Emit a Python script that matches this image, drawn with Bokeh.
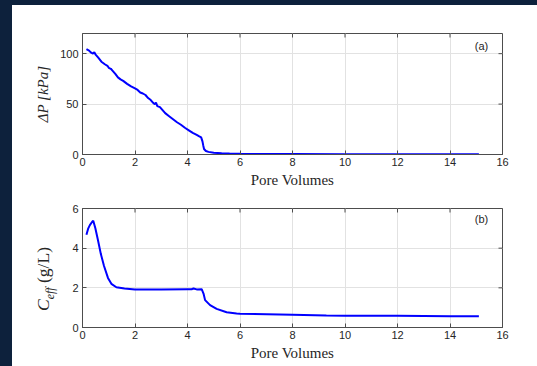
from bokeh.plotting import figure
from bokeh.models import FixedTicker, Range1d, Label, GlobalInlineStyleSheet, Div
from bokeh.layouts import column
from bokeh.embed import file_html
from bokeh.resources import INLINE

# ---------------- data ----------------
pv_dp = [0.15, 0.25, 0.33, 0.40, 0.45, 0.50, 0.60, 0.72, 0.85, 0.95, 1.00, 1.08, 1.15,
         1.25, 1.35, 1.45, 1.55, 1.70, 1.85, 2.00, 2.10, 2.20, 2.30, 2.40, 2.50, 2.60,
         2.70, 2.75, 2.80, 2.85, 2.95, 3.05, 3.15, 3.30, 3.45, 3.60, 3.75, 3.90, 4.05,
         4.20, 4.35, 4.45, 4.52, 4.57, 4.60, 4.63, 4.70, 4.80, 5.00, 5.30, 5.60, 6.00,
         7.00, 8.00, 10.0, 12.0, 14.0, 15.1]
dp = [104.5, 103.0, 101.0, 100.0, 101.5, 99.0, 96.0, 92.0, 89.5, 88.0, 86.0, 85.0, 83.0,
      80.0, 76.5, 74.5, 73.0, 70.0, 67.5, 65.5, 64.0, 61.5, 60.5, 59.0, 56.0, 54.0,
      51.0, 50.0, 51.5, 48.0, 47.0, 44.0, 41.0, 38.0, 35.0, 32.0, 29.5, 26.5, 24.0,
      21.5, 19.5, 18.0, 17.0, 13.0, 9.0, 5.5, 3.5, 2.6, 1.8, 1.2, 0.9, 0.7,
      0.5, 0.4, 0.35, 0.3, 0.3, 0.3]

pv_c = [0.15, 0.22, 0.28, 0.37, 0.41, 0.49, 0.59, 0.70, 0.82, 0.97, 1.10, 1.29, 1.60,
        2.00, 3.00, 4.00, 4.16, 4.23, 4.35, 4.54, 4.61, 4.67, 4.86, 5.11, 5.49, 5.87,
        6.00, 8.00, 9.29, 10.0, 12.0, 14.0, 15.1]
c_eff = [4.68, 5.00, 5.16, 5.33, 5.38, 5.00, 4.40, 3.70, 3.10, 2.50, 2.20, 2.03, 1.97,
         1.91, 1.91, 1.93, 1.93, 1.97, 1.92, 1.93, 1.71, 1.38, 1.13, 0.94, 0.77, 0.71,
         0.69, 0.64, 0.60, 0.59, 0.59, 0.57, 0.57]

x_ticks = [0, 2, 4, 6, 8, 10, 12, 14, 16]
dp_ticks = [0, 50, 100]
c_ticks = [0, 2, 4, 6]

NAVY = "#0d213c"
TXT = "#262626"
AX = "#4d4d4d"
GRID = "#e2e2e2"
BLUE = "#0000ff"

FRAME_W = 420  # px, used to size the inner box-ticks


def make_fig(height, top, bottom, yr, yticks, frame_h):
    p = figure(width=525, height=height, x_range=Range1d(0, 16), y_range=Range1d(*yr),
               output_backend="svg", toolbar_location=None,
               min_border_left=70, min_border_right=35,
               min_border_top=top, min_border_bottom=bottom)
    p.background_fill_color = "white"
    p.border_fill_color = "white"
    p.outline_line_color = AX
    p.xaxis.ticker = FixedTicker(ticks=x_ticks)
    p.yaxis.ticker = FixedTicker(ticks=yticks)
    p.xgrid.ticker = FixedTicker(ticks=x_ticks)
    p.ygrid.ticker = FixedTicker(ticks=yticks)
    p.xgrid.grid_line_color = GRID
    p.ygrid.grid_line_color = GRID
    for ax in p.xaxis + p.yaxis:
        ax.major_tick_in = 4
        ax.major_tick_out = 0
        ax.minor_tick_line_color = None
        ax.axis_line_color = AX
        ax.major_tick_line_color = AX
        ax.major_label_text_font = "Liberation Sans"
        ax.major_label_text_font_size = "11px"
        ax.major_label_text_color = TXT
        ax.major_label_standoff = 4
        ax.axis_label_text_font = "Liberation Serif"
        ax.axis_label_text_font_size = "15px"
        ax.axis_label_text_font_style = "normal"
        ax.axis_label_text_color = TXT
    p.xaxis.axis_label = "Pore Volumes"
    p.xaxis.axis_label_standoff = 3
    p.xaxis.major_label_standoff = 3
    # inner ticks on the top and right edges of the box
    y0, y1 = yr
    dy = 4 * (y1 - y0) / frame_h
    dx = 4 * 16 / FRAME_W
    p.segment(x0=x_ticks, y0=[y1] * len(x_ticks), x1=x_ticks, y1=[y1 - dy] * len(x_ticks),
              line_color=AX, line_width=1)
    p.segment(x0=[16] * len(yticks), y0=yticks, x1=[16 - dx] * len(yticks), y1=yticks,
              line_color=AX, line_width=1)
    return p


# ---------------- top panel ----------------
p1 = make_fig(185, 28, 36, (0, 120), dp_ticks, 121)
p1.line(pv_dp, dp, line_color=BLUE, line_width=2)
p1.yaxis[0].axis_label = "ΔP [kPa]"
p1.yaxis[0].axis_label_text_font_style = "italic"
p1.yaxis[0].axis_label_standoff = 6
p1.add_layout(Label(x=15.2, y=108, text="(a)", text_align="center", text_baseline="middle",
                    text_font="Liberation Sans", text_font_size="11px", text_color=TXT))

# ---------------- bottom panel ----------------
p2 = make_fig(176, 18, 39, (0, 6), c_ticks, 119)
p2.line(pv_c, c_eff, line_color=BLUE, line_width=2)
p2.add_layout(Label(x=15.2, y=5.45, text="(b)", text_align="center", text_baseline="middle",
                    text_font="Liberation Sans", text_font_size="11px", text_color=TXT))

ylab2 = Div(
    text=('<span style="font-family:\'Liberation Serif\';font-size:17.5px;color:%s;white-space:nowrap">'
          '<i>C</i><sub style="font-size:12px"><i>eff</i></sub> (g/L)</span>') % TXT,
    width=90, height=20,
    styles={"position": "absolute", "left": "-19px", "top": "259px",
            "transform": "rotate(-90deg)", "transform-origin": "45px 10px",
            "text-align": "center", "line-height": "20px"})

layout = column(p1, p2, ylab2, styles={"background-color": "white"},
                stylesheets=[GlobalInlineStyleSheet(
                    css="body { background-color: %s; margin: 5px 0 0 12px; }" % NAVY)])

open("out.html", "w").write(file_html(layout, INLINE))
